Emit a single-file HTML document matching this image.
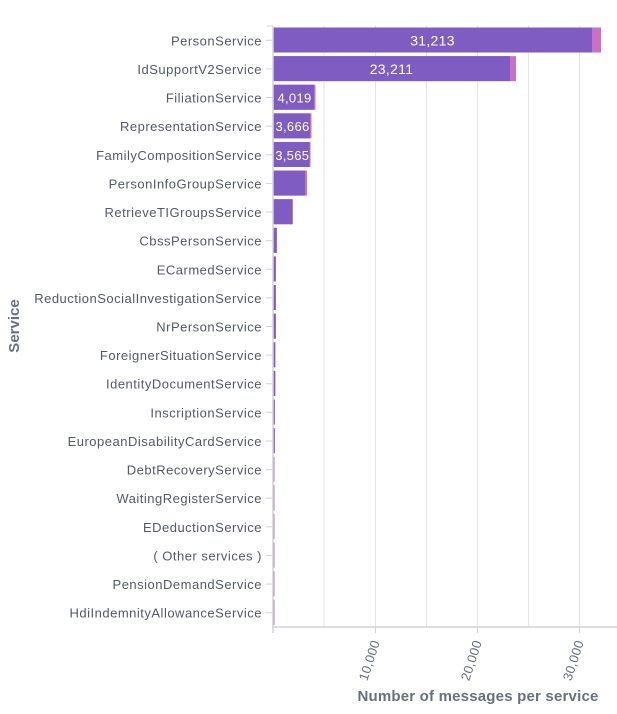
<!DOCTYPE html>
<html><head><style>body{margin:0;background:#fff}svg{display:block}text{font-family:"Liberation Sans",sans-serif}</style></head><body>
<svg width="617" height="714" xmlns="http://www.w3.org/2000/svg">
<g stroke="#e3e3e8" stroke-width="1">
<line x1="324" y1="26" x2="324" y2="627"/><line x1="375.5" y1="26" x2="375.5" y2="627"/><line x1="426.5" y1="26" x2="426.5" y2="627"/><line x1="477.5" y1="26" x2="477.5" y2="627"/><line x1="528.5" y1="26" x2="528.5" y2="627"/><line x1="579.5" y1="26" x2="579.5" y2="627"/>
</g>
<g id="bars"></g>
<line x1="273" y1="26" x2="273" y2="633" stroke="#d3d3d8" stroke-width="1.5"/>
<line x1="267" y1="26" x2="273" y2="26" stroke="#d3d3d8"/>
<line x1="273" y1="627" x2="617" y2="627" stroke="#d3d3d8" stroke-width="1.5"/>
<g stroke="#d3d3d8"><line x1="375.5" y1="627" x2="375.5" y2="633"/><line x1="477.5" y1="627" x2="477.5" y2="633"/><line x1="579.5" y1="627" x2="579.5" y2="633"/></g>
<g font-size="13" fill="#69707d" letter-spacing="0.3">
<text transform="translate(380,642) rotate(-72)" text-anchor="end">10,000</text>
<text transform="translate(482,642) rotate(-72)" text-anchor="end">20,000</text>
<text transform="translate(584,642) rotate(-72)" text-anchor="end">30,000</text>
</g>
<text x="478" y="701" text-anchor="middle" font-size="15" font-weight="bold" fill="#69707d" letter-spacing="0.2">Number of messages per service</text>
<text transform="translate(19,326) rotate(-90)" text-anchor="middle" font-size="15" font-weight="bold" fill="#69707d">Service</text>
<g id="labels" font-size="13" fill="#535966" text-anchor="end" letter-spacing="0.5"></g>
<script>
var names=["PersonService","IdSupportV2Service","FiliationService","RepresentationService","FamilyCompositionService","PersonInfoGroupService","RetrieveTIGroupsService","CbssPersonService","ECarmedService","ReductionSocialInvestigationService","NrPersonService","ForeignerSituationService","IdentityDocumentService","InscriptionService","EuropeanDisabilityCardService","DebtRecoveryService","WaitingRegisterService","EDeductionService","( Other services )","PensionDemandService","HdiIndemnityAllowanceService"];
var p=[592,510,314,310,309.5,305,292,276.5,275.5,275.5,275.5,275,275,274.5,274.5,274,274,274,274,274,274];
var k=[601,516,315.5,311.5,310.5,307,293,277,276,276,276,275.5,275.5,275,275,274.5,274.5,274.5,274.5,274.5,274.5];
var vals={0:"31,213",1:"23,211",2:"4,019",3:"3,666",4:"3,565"};
var ns="http://www.w3.org/2000/svg",b=document.getElementById("bars"),l=document.getElementById("labels");
function el(t,a,par,txt){var e=document.createElementNS(ns,t);for(var q in a)e.setAttribute(q,a[q]);if(txt)e.textContent=txt;par.appendChild(e);return e;}
for(var i=0;i<21;i++){var band=601/21,y=26+i*band,c=y+band/2;
el("rect",{x:273,y:y+1.5,width:k[i]-273,height:25,fill:"#c971c9"},b);
el("rect",{x:273,y:y+1.5,width:p[i]-273,height:25,fill:"#7e5cc2"},b);
if(vals[i]!==undefined){var cx=i<2?(273+p[i])/2:(273+p[i])/2+1;el("text",{x:cx,y:c+5,"text-anchor":"middle","font-size":i<2?14:13,fill:"#fff","letter-spacing":0.3},b,vals[i]);}
el("line",{x1:266,y1:c,x2:273,y2:c,stroke:"#d3d3d8"},b);
el("text",{x:262,y:c+5},l,names[i]);}
</script>
</svg></body></html>
